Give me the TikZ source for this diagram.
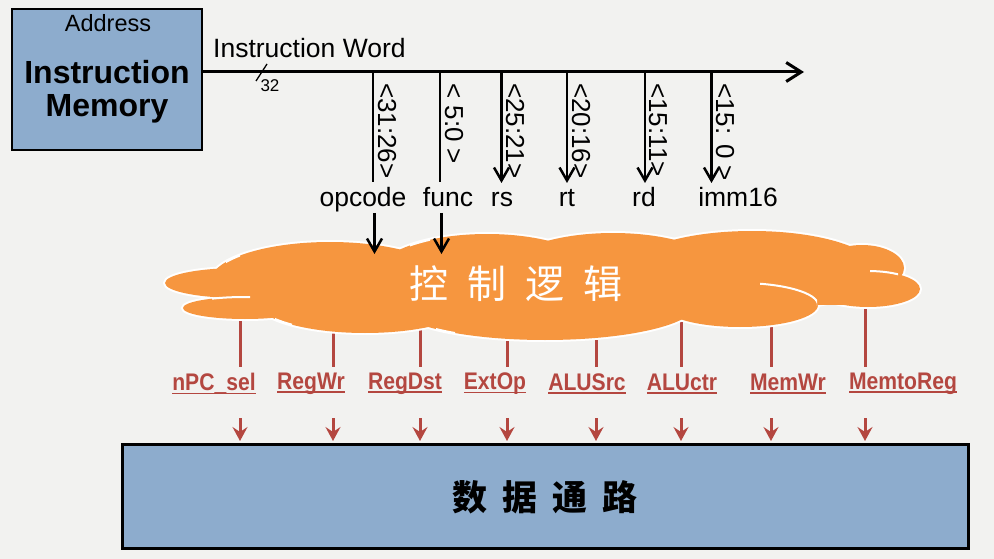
\documentclass[tikz,border=0pt]{standalone}
\usepackage{fontspec}
\setmainfont{Liberation Sans}
\newfontfamily\cjk{Noto Sans CJK SC}
\newfontfamily\sigfont[FakeStretch=0.88]{Liberation Sans}
\usetikzlibrary{arrows.meta}
\definecolor{bgc}{HTML}{F2F2F0}
\definecolor{boxblue}{HTML}{8DACCD}
\definecolor{cloudor}{HTML}{F6963F}
\definecolor{sigred}{HTML}{B44740}
\newcommand\sigul[1]{\setbox0\hbox{#1}\rlap{\rule[-3.5pt]{\wd0}{1.8pt}}\box0}
\begin{document}
\begin{tikzpicture}[x=1pt,y=-1pt,
  blkbox/.style={draw=black, fill=boxblue, line width=2.5pt, inner sep=0pt},
  mainline/.style={line width=3pt, black},
  tapline/.style={line width=2.5pt, black},
  barb/.style={-{Straight Barb[length=13pt,width=15pt]}},
  bits/.style={rotate=-90, anchor=west, inner sep=0pt, font=\fontsize{26}{28}\selectfont},
  fld/.style={anchor=base, inner sep=0pt, font=\fontsize{26.5}{29}\selectfont},
  sig/.style={text=sigred, inner sep=0pt, font=\sigfont\bfseries\fontsize{24}{26}\selectfont},
  sigline/.style={draw=sigred, line width=3pt},
  sigarrow/.style={draw=sigred, line width=3pt, -{Stealth[length=14pt,width=15pt,inset=5pt]}},
  halo/.style={draw=white, line width=4pt},
  lobe/.style={fill=cloudor},
  crease/.style={draw=white, line width=2pt}
]
\useasboundingbox (0,0) rectangle (994,559);
\fill[bgc] (0,0) rectangle (994,559);

% Instruction memory
\node[blkbox, minimum width=190pt, minimum height=141pt] (im) at (107,79.5) {};
\node[inner sep=0pt, font=\fontsize{23.5}{26}\selectfont] (addr) at (108,23) {Address};
\node[inner sep=0pt, font=\bfseries\fontsize{32}{34}\selectfont] (imt1) at (107,72) {Instruction};
\node[inner sep=0pt, font=\bfseries\fontsize{32}{34}\selectfont] (imt2) at (107,109) {Memory};

% main bus
\coordinate (busend) at (804,72);
\draw[mainline, -{Straight Barb[length=15pt,width=19pt]}] (im.east |- busend) -- (busend);
\node[anchor=base west, inner sep=0pt, font=\fontsize{26.5}{29}\selectfont] (iw) at (213,58) {Instruction Word};
\coordinate (sl1) at (256,81);
\coordinate (sl2) at (267,64);
\draw[line width=1.3pt] (sl1) -- (sl2);
\node[inner sep=0pt, font=\fontsize{17}{19}\selectfont] (w32) at (270,86) {32};

% taps
\coordinate (t1) at (373,72);   \coordinate (e1) at (373,182);
\coordinate (t2) at (440,72);   \coordinate (e2) at (440,182);
\coordinate (t3) at (501.5,72); \coordinate (e3) at (501.5,183);
\coordinate (t4) at (567,72);   \coordinate (e4) at (567,183);
\coordinate (t5) at (645,72);   \coordinate (e5) at (645,183);
\coordinate (t6) at (711.5,72); \coordinate (e6) at (711.5,183);
\draw[tapline] (t1) -- (e1);
\draw[tapline] (t2) -- (e2);
\draw[tapline, barb] (t3) -- (e3);
\draw[tapline, barb] (t4) -- (e4);
\draw[tapline, barb] (t5) -- (e5);
\draw[tapline, barb] (t6) -- (e6);

\node[bits] (b1) at (387,83) {<31:26>};
\node[bits] (b2) at (454,83) {< 5:0 >};
\node[bits] (b3) at (515,83) {<25:21>};
\node[bits] (b4) at (581,83) {<20:16>};
\node[bits] (b5) at (658,83) {<15:11>};
\node[bits] (b6) at (725,83) {<15: 0 >};

\node[fld] (opcode) at (363,207) {opcode};
\node[fld] (func) at (448,207) {func};
\node[fld] (rs) at (502,207) {rs};
\node[fld] (rt) at (567,207) {rt};
\node[fld] (rd) at (644,207) {rd};
\node[fld] (imm) at (738,207) {imm16};

% red signal lines from the cloud (drawn under it)
\foreach \x/\n in {240/1,333/2,420/3,507/4,596/5,681/6,771/7,865/8}{
  \coordinate (cu\n) at (\x,300);
  \coordinate (cd\n) at (\x,367);
  \coordinate (au\n) at (\x,418);
  \coordinate (ad\n) at (\x,441);
  \draw[sigline] (cu\n) -- (cd\n);
}

% cloud
\def\lobes{{(240,283)}/75/15, {(330,282)}/120/40, {(487,274)}/110/40,
  {(613,273)}/110/40, {(752,271)}/125/40, {(862,268)}/42/23,
  {(868,289)}/52/18, {(740,305)}/78/22, {(545,305)}/150/35,
  {(365,300)}/110/33, {(245,308)}/62/11}
\foreach \c/\a/\b in \lobes{
  \draw[halo] \c ellipse [x radius=\a pt, y radius=\b pt];
}
\foreach \c/\a/\b in \lobes{
  \fill[lobe] \c ellipse [x radius=\a pt, y radius=\b pt];
}
\fill[lobe] (250,265) rectangle (860,305);
\begin{scope}
  \clip (212,290) rectangle (250,303);
  \draw[crease] (245,308) ellipse [x radius=62pt, y radius=11pt];
\end{scope}
\begin{scope}
  \clip (226,250) rectangle (240,268);
  \draw[crease] (330,282) ellipse [x radius=120pt, y radius=40pt];
\end{scope}
\begin{scope}
  \clip (410,236) rectangle (430,250);
  \draw[crease] (487,274) ellipse [x radius=110pt, y radius=40pt];
\end{scope}
\begin{scope}
  \clip (870,266) rectangle (898,280);
  \draw[crease] (868,289) ellipse [x radius=52pt, y radius=18pt];
\end{scope}
\begin{scope}
  \clip (760,280) rectangle (817,305);
  \draw[crease] (740,305) ellipse [x radius=78pt, y radius=22pt];
\end{scope}
\begin{scope}
  \clip (436,322) rectangle (455,334);
  \draw[crease] (545,305) ellipse [x radius=150pt, y radius=35pt];
\end{scope}
\begin{scope}
  \clip (275,314) rectangle (292,326);
  \draw[crease] (365,300) ellipse [x radius=110pt, y radius=33pt];
\end{scope}

\node[text=white, inner sep=0pt, font=\cjk\fontsize{39}{44}\selectfont] (ctl) at (516,284)
  {控\hspace{19pt}制\hspace{19pt}逻\hspace{19pt}辑};

% inputs to the cloud
\coordinate (op1) at (374.5,213); \coordinate (op2) at (374.5,254);
\coordinate (fu1) at (441.5,213); \coordinate (fu2) at (441.5,254);
\draw[tapline, barb] (op1) -- (op2);
\draw[tapline, barb] (fu1) -- (fu2);

% signal labels
\node[sig] (s1) at (214,384) {\sigul{nPC\_sel}};
\node[sig] (s2) at (311,384) {\sigul{RegWr}};
\node[sig] (s3) at (405,384) {\sigul{RegDst}};
\node[sig] (s4) at (495,384) {\sigul{ExtOp}};
\node[sig] (s5) at (587,384) {\sigul{ALUSrc}};
\node[sig] (s6) at (682,384) {\sigul{ALUctr}};
\node[sig] (s7) at (788,384) {\sigul{MemWr}};
\node[sig] (s8) at (903,384) {\sigul{MemtoReg}};

% data path
\node[blkbox, line width=3pt, minimum width=846pt, minimum height=104pt] (dp) at (545,496) {};
\node[inner sep=0pt, font=\cjk\bfseries\fontsize{35}{40}\selectfont] (dpt) at (545,497)
  {数\hspace{15pt}据\hspace{15pt}通\hspace{15pt}路};
\foreach \n in {1,...,8}{
  \draw[sigarrow] (au\n) -- (ad\n);
}
\end{tikzpicture}
\end{document}
